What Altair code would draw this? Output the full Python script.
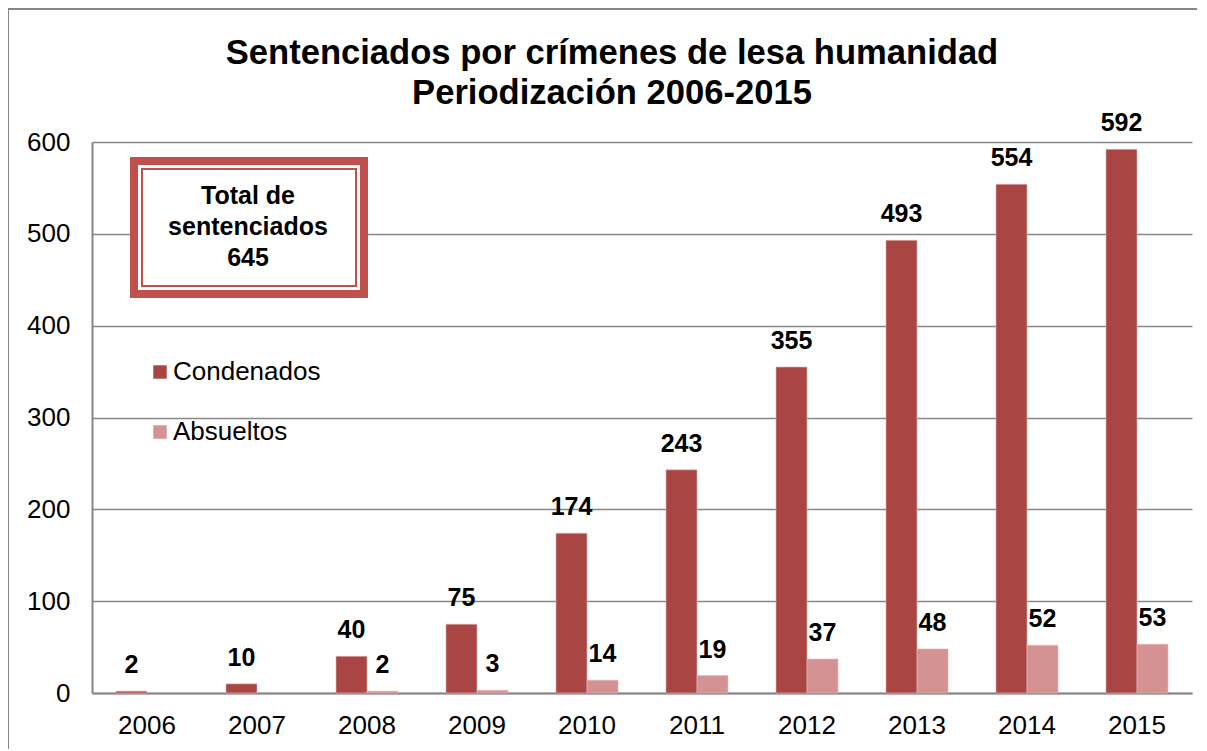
import altair as alt
import pandas as pd

years = ["2006", "2007", "2008", "2009", "2010", "2011", "2012", "2013", "2014", "2015"]
condenados = [2, 10, 40, 75, 174, 243, 355, 493, 554, 592]
absueltos = [None, None, 2, 3, 14, 19, 37, 48, 52, 53]
series_names = ["Condenados", "Absueltos"]
series_colors = ["#A94543", "#D49292"]
total_sentenciados = 645
title_lines = ["Sentenciados por crímenes de lesa humanidad", "Periodización 2006-2015"]

rows = []
for y, c, a in zip(years, condenados, absueltos):
    rows.append({"Año": y, "Serie": "Condenados", "Valor": c})
    if a is not None:
        rows.append({"Año": y, "Serie": "Absueltos", "Valor": a})
df = pd.DataFrame(rows)

FONT = "Liberation Sans"
W, H = 1100, 551

x_enc = alt.X("Año:N", sort=years,
              scale=alt.Scale(paddingInner=0.436, paddingOuter=0.218),
              axis=alt.Axis(title=None, labelAngle=0, labelFontSize=26, labelFont=FONT,
                            labelColor="black", ticks=False, labelPadding=19,
                            domainColor="#868686", domainWidth=2, grid=False))
y_enc = alt.Y("Valor:Q", scale=alt.Scale(domain=[0, 600], nice=False),
              axis=alt.Axis(title=None, values=[0, 100, 200, 300, 400, 500, 600],
                            labelFontSize=26, labelFont=FONT, labelColor="black",
                            ticks=False, labelPadding=22, domainColor="#868686",
                            domainWidth=2, gridColor="#868686", gridWidth=1.5))
xoff = alt.XOffset("Serie:N", sort=series_names)

bars = alt.Chart(df).mark_bar(stroke="#E6B8B7", strokeWidth=0.6).encode(
    x=x_enc, y=y_enc, xOffset=xoff,
    color=alt.Color("Serie:N", sort=series_names,
                    scale=alt.Scale(domain=series_names, range=series_colors),
                    legend=alt.Legend(title=None, orient="none", legendX=55, legendY=217,
                                      symbolType="square", symbolSize=180,
                                      symbolStrokeWidth=0, labelFontSize=26,
                                      labelFont=FONT, labelColor="black",
                                      rowPadding=34, labelOffset=0)),
)

labels = alt.Chart(df).mark_text(fontSize=25, font=FONT, fontWeight="bold",
                                  baseline="alphabetic", dy=-18, color="black").encode(
    x=alt.X("Año:N", sort=years), y="Valor:Q", xOffset=xoff, text="Valor:Q",
)

box_df = pd.DataFrame({"t": [f"Total de\nsentenciados\n{total_sentenciados}"]})
box_outer = alt.Chart(box_df).mark_rect(fill="white", stroke="#C0504D", strokeWidth=8).encode(
    x=alt.value(42), x2=alt.value(272), y=alt.value(19), y2=alt.value(152))
box_inner = alt.Chart(box_df).mark_rect(fill="white", stroke="#C0504D", strokeWidth=2).encode(
    x=alt.value(50), x2=alt.value(264), y=alt.value(27), y2=alt.value(144))
box_text = alt.Chart(box_df).mark_text(fontSize=25, font=FONT, fontWeight="bold",
                                       lineBreak="\n", lineHeight=31, align="center",
                                       baseline="alphabetic", color="black").encode(
    x=alt.value(156), y=alt.value(62), text="t:N")

title_df = pd.DataFrame({"t": ["\n".join(title_lines)]})
title_text = alt.Chart(title_df).mark_text(fontSize=34.6, font=FONT, fontWeight="bold",
                                           lineBreak="\n", lineHeight=40, align="center",
                                           baseline="alphabetic", color="black").encode(
    x=alt.value(520), y=alt.value(-78), text="t:N")

frame_top = alt.Chart(box_df).mark_rule(stroke="#868686", strokeWidth=2).encode(
    x=alt.value(-84), x2=alt.value(1200), y=alt.value(-133))
frame_left = alt.Chart(box_df).mark_rule(stroke="#868686", strokeWidth=2).encode(
    x=alt.value(-84), y=alt.value(-133), y2=alt.value(720))

chart = alt.layer(frame_top, frame_left, bars, labels, box_outer, box_inner, box_text,
                  title_text).properties(
    width=W, height=H,
    autosize=alt.AutoSizeParams(type="none"),
    padding={"left": 84, "top": 134, "right": 5, "bottom": 56},
).configure_view(stroke=None).configure_legend(labelLimit=300)

chart.save("out.html", embed_options={"renderer": "svg", "actions": False})
